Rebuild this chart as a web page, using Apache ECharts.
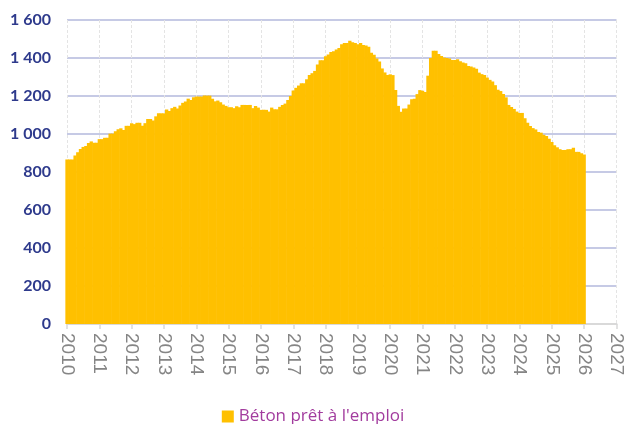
<!DOCTYPE html>
<html>
<head>
<meta charset="utf-8">
<script src="https://cdn.jsdelivr.net/npm/echarts@6/dist/echarts.min.js"></script>
<style>
  html, body { margin: 0; padding: 0; background: #fff; }
  #chart { width: 626px; height: 424px; }
</style>
</head>
<body>
<div id="chart"></div>
<script>
(function () {
  'use strict'

  var startYear = 2010
  var yearTicks = [2010, 2011, 2012, 2013, 2014, 2015, 2016, 2017, 2018,
    2019, 2020, 2021, 2022, 2023, 2024, 2025, 2026, 2027]
  var seriesName = 'Béton prêt à l\'emploi'

  // valeurs mensuelles, de janvier 2010 à janvier 2026
  var beton = [
    866, 866, 866, 887, 904, 921, 932, 937, 952, 961, 954, 954,
    973, 973, 980, 980, 1002, 1002, 1014, 1025, 1030, 1021, 1043, 1043,
    1057, 1052, 1059, 1059, 1043, 1057, 1079, 1079, 1071, 1093, 1109, 1109,
    1109, 1129, 1121, 1136, 1143, 1134, 1150, 1164, 1171, 1186, 1179, 1193,
    1197, 1197, 1197, 1202, 1202, 1202, 1186, 1172, 1176, 1167, 1155, 1148,
    1141, 1141, 1136, 1146, 1141, 1153, 1153, 1153, 1153, 1136, 1148, 1139,
    1127, 1127, 1127, 1118, 1139, 1130, 1130, 1143, 1153, 1160, 1179, 1200,
    1229, 1243, 1255, 1267, 1267, 1288, 1311, 1320, 1332, 1366, 1388, 1388,
    1409, 1419, 1431, 1436, 1445, 1452, 1472, 1479, 1479, 1491, 1483, 1479,
    1472, 1479, 1469, 1466, 1459, 1428, 1417, 1397, 1381, 1345, 1324, 1310,
    1314, 1310, 1231, 1148, 1117, 1134, 1134, 1155, 1183, 1186, 1210, 1231,
    1228, 1221, 1307, 1400, 1438, 1438, 1421, 1410, 1403, 1400, 1397, 1390,
    1390, 1393, 1383, 1376, 1372, 1358, 1355, 1350, 1344, 1323, 1315, 1310,
    1297, 1285, 1276, 1257, 1233, 1226, 1210, 1193, 1153, 1142, 1132, 1118,
    1111, 1111, 1083, 1059, 1042, 1031, 1024, 1010, 1007, 996, 989, 975,
    958, 941, 930, 920, 916, 916, 920, 920, 927, 906, 906, 899,
    892
  ]

  var data = beton.map(function (v, i) {
    return [startYear + i / 12, v]
  })

  function milliers (v) {
    if (v < 1000) return String(v)
    return Math.floor(v / 1000) + ' ' + String(v % 1000).padStart(3, '0')
  }

  var myChart = echarts.init(document.getElementById('chart'), null, { renderer: 'canvas' })

  myChart.setOption({
    animation: false,
    grid: { left: 67, right: 8, top: 20, bottom: 100 },
    legend: {
      data: [seriesName],
      top: 403,
      left: 'center',
      icon: 'rect',
      itemWidth: 12,
      itemHeight: 12,
      itemGap: 4,
      textStyle: { color: '#A23C9E', fontSize: 17, fontFamily: 'Open Sans' }
    },
    xAxis: {
      type: 'value',
      min: yearTicks[0],
      max: yearTicks[yearTicks.length - 1],
      interval: 1,
      axisLine: { show: true, lineStyle: { color: '#D9D9D9', width: 2 } },
      axisTick: { show: true, length: 5, lineStyle: { color: '#D9D9D9', width: 1.5 } },
      axisLabel: {
        rotate: -90,
        margin: 9,
        color: '#858585',
        fontSize: 19,
        fontFamily: 'Liberation Sans',
        formatter: function (v) { return String(v) }
      },
      splitLine: { show: true, lineStyle: { color: '#E4E4E4', width: 1, type: [3, 2] } }
    },
    yAxis: {
      type: 'value',
      min: 0,
      max: 1600,
      interval: 200,
      axisLine: { show: false },
      axisTick: { show: false },
      axisLabel: {
        margin: 16,
        color: '#2E3A8C',
        fontSize: 16,
        fontWeight: 'bold',
        fontFamily: 'Lato',
        formatter: milliers
      },
      splitLine: { lineStyle: { color: '#B3B8DD', width: 1.5 } }
    },
    series: [{
      name: seriesName,
      type: 'bar',
      data: data,
      barWidth: 3.3,
      clip: true,
      itemStyle: { color: '#FFC000' }
    }]
  })
}())
</script>
</body>
</html>
